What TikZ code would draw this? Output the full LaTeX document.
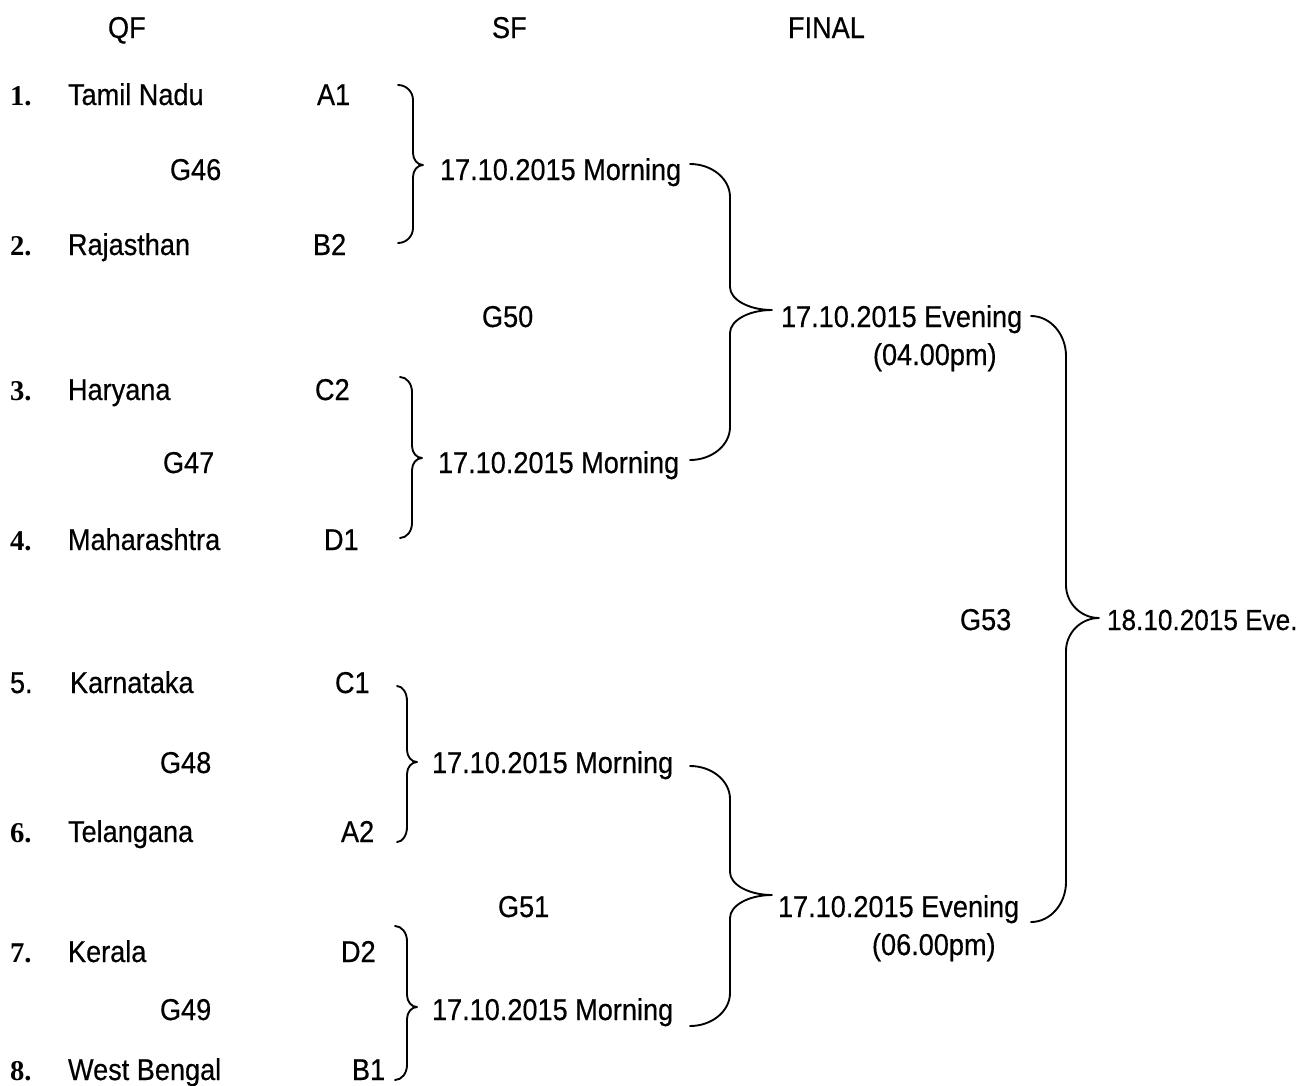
\documentclass[tikz,border=0pt]{standalone}
\usepackage{fontspec}
\setmainfont{Liberation Sans}[FakeStretch=0.9,FakeBold=0.4]
\newfontfamily\numfont{Liberation Serif}
% xl yt xv xt ym yb r m
\newcommand\mybrace[8]{%
 \draw[brace] (#1,#2) .. controls ({#1+0.55*(#3-#1)},#2) and (#3,{#2+0.45*#7}) .. (#3,{#2+#7})
   -- (#3,{#5-#8}) .. controls (#3,{#5-0.45*#8}) and ({#4-0.55*(#4-#3)},#5) .. (#4,#5)
   .. controls ({#4-0.55*(#4-#3)},#5) and (#3,{#5+0.45*#8}) .. (#3,{#5+#8})
   -- (#3,{#6-#7}) .. controls (#3,{#6-0.45*#7}) and ({#1+0.55*(#3-#1)},#6) .. (#1,#6);}
\begin{document}
\begin{tikzpicture}[x=0.75pt,y=-0.75pt,
  txt/.style={anchor=base west,inner sep=0pt,outer sep=0pt,font=\fontsize{22.6}{26}\selectfont},
  num/.style={anchor=base west,inner sep=0pt,outer sep=0pt,font=\fontsize{21.5}{24}\selectfont\numfont\bfseries},
  brace/.style={draw=black,line width=1.4pt,line cap=round,line join=round}]
\useasboundingbox (0,0) rectangle (1302,1085);
% headers
\node[txt] (hqf) at (108,38) {QF};
\node[txt] (hsf) at (492,38) {SF};
\node[txt] (hfin) at (788,38) {FINAL};
% quarter finals
\node[num] (n1) at (10,105) {1.};
\node[txt] (t1) at (68,105) {Tamil Nadu};
\node[txt] (p1) at (317,105) {A1};
\node[txt] (g46) at (170,180) {G46};
\node[num] (n2) at (10,255) {2.};
\node[txt] (t2) at (68,255) {Rajasthan};
\node[txt] (p2) at (313,255) {B2};
\node[num] (n3) at (10,400) {3.};
\node[txt] (t3) at (68,400) {Haryana};
\node[txt] (p3) at (315,400) {C2};
\node[txt] (g47) at (163,473) {G47};
\node[num] (n4) at (10,550) {4.};
\node[txt] (t4) at (68,550) {Maharashtra};
\node[txt] (p4) at (324,550) {D1};
\node[txt] (n5) at (10,693) {5.};
\node[txt] (t5) at (70,693) {Karnataka};
\node[txt] (p5) at (335,693) {C1};
\node[txt] (g48) at (160,773) {G48};
\node[num] (n6) at (10,842) {6.};
\node[txt] (t6) at (68,842) {Telangana};
\node[txt] (p6) at (341,842) {A2};
\node[num] (n7) at (10,962) {7.};
\node[txt] (t7) at (68,962) {Kerala};
\node[txt] (p7) at (341,962) {D2};
\node[txt] (g49) at (160,1020) {G49};
\node[num] (n8) at (10,1080) {8.};
\node[txt] (t8) at (68,1080) {West Bengal};
\node[txt] (p8) at (352,1080) {B1};
% semi finals
\node[txt] (m1) at (440,180) {17.10.2015 Morning};
\node[txt] (m2) at (438,473) {17.10.2015 Morning};
\node[txt] (m3) at (432,773) {17.10.2015 Morning};
\node[txt] (m4) at (432,1020) {17.10.2015 Morning};
\node[txt] (g50) at (482,327) {G50};
\node[txt] (g51) at (498,917) {G51};
% finals
\node[txt] (e1) at (781,327) {17.10.2015 Evening};
\node[txt] (e1b) at (873,365) {(04.00pm)};
\node[txt] (e2) at (778,917) {17.10.2015 Evening};
\node[txt] (e2b) at (872,955) {(06.00pm)};
\node[txt] (g53) at (960,630) {G53};
\node[txt,font=\fontsize{21.8}{26}\selectfont] (fin) at (1107,630) {18.10.2015 Eve.};
% braces
\mybrace{398}{85}{413}{423}{165}{243}{15}{12}
\mybrace{400}{377}{412}{422}{458}{538}{15}{12}
\mybrace{397}{686}{407}{417}{762}{842}{15}{12}
\mybrace{395}{926}{407}{417}{1007}{1080}{15}{12}
\mybrace{690}{164}{730}{772}{310}{460}{33}{23}
\mybrace{690}{766}{730}{772}{895}{1026}{33}{23}
\mybrace{1031}{316}{1066}{1099}{618}{922}{40}{33}
\end{tikzpicture}
\end{document}
